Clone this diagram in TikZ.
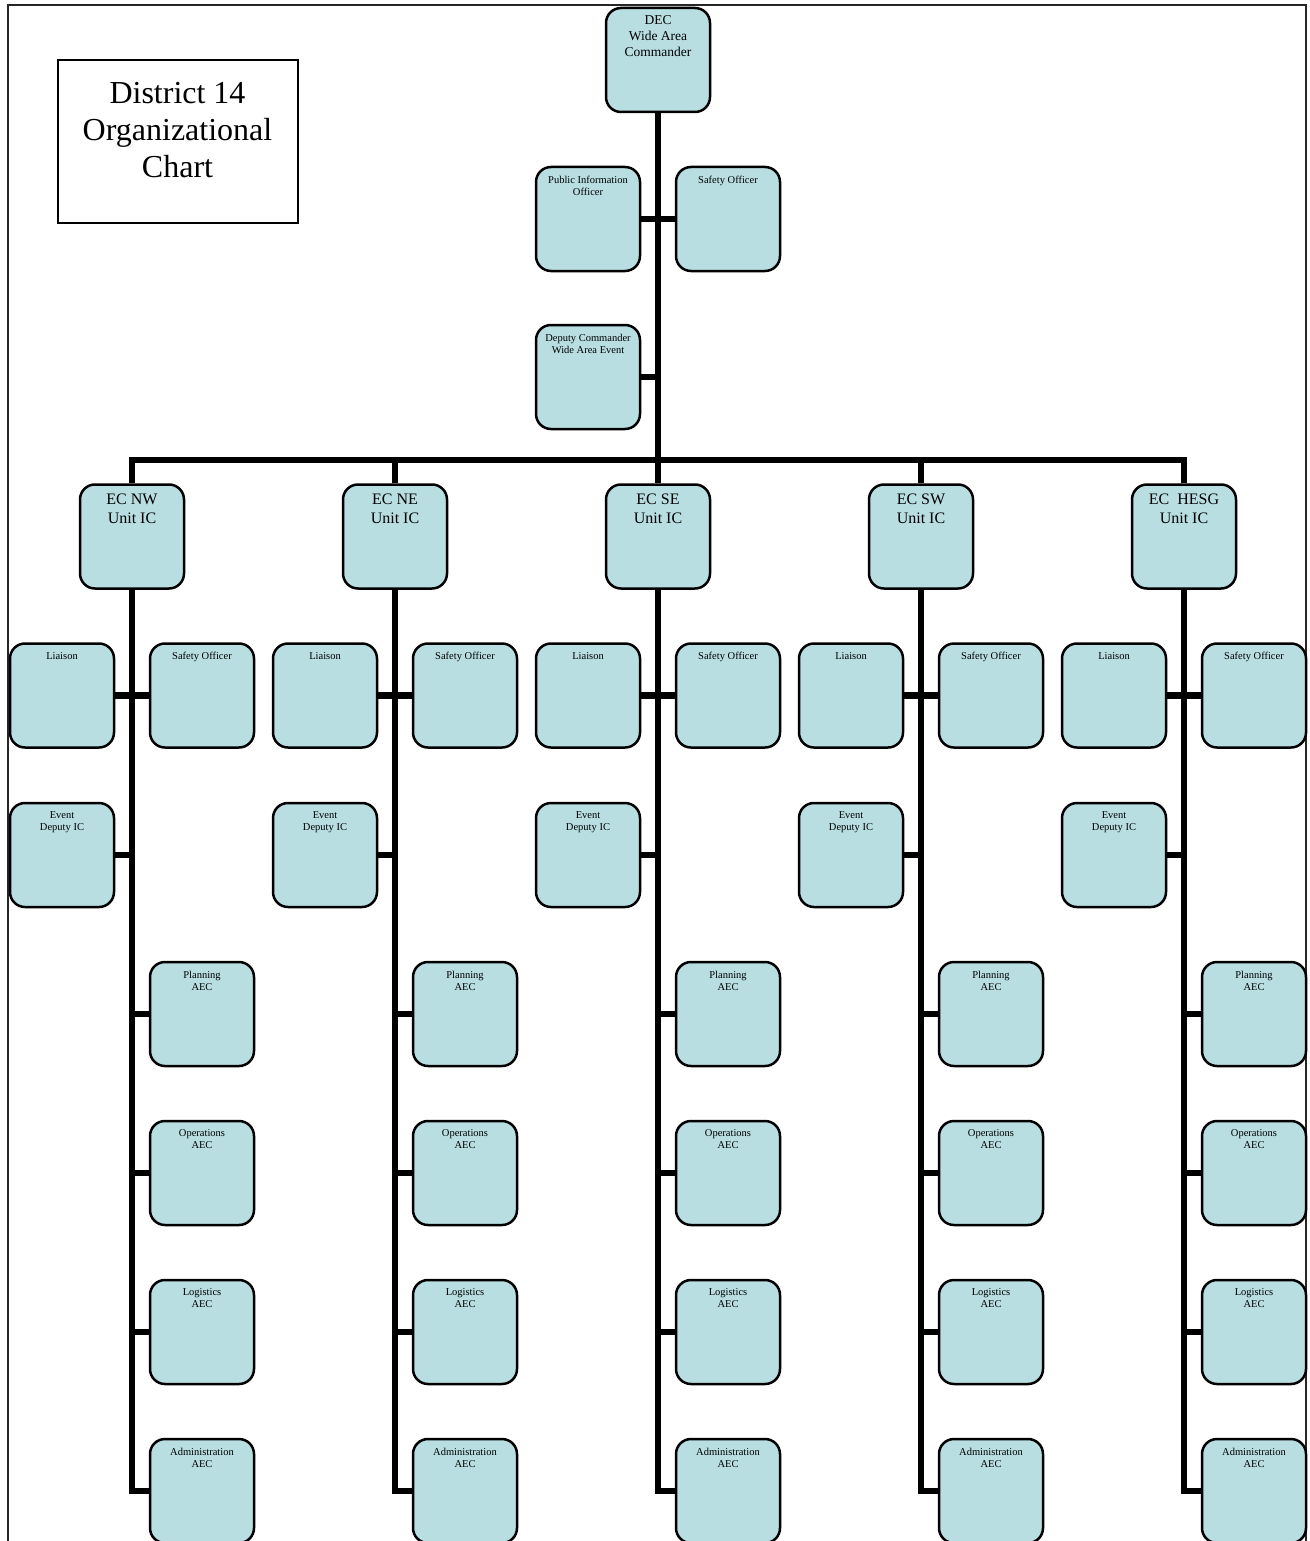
\documentclass[tikz,border=0pt]{standalone}
\usepackage{fontspec}
\setmainfont{Liberation Serif}
\definecolor{boxfill}{RGB}{184,222,226}
\tikzset{
  orgbox/.style={draw=black, line width=2.5pt, fill=boxfill, rounded corners=15pt,
    minimum width=104pt, minimum height=104pt, inner sep=0pt},
  smalllab/.style={anchor=north, yshift=-10pt, align=center, inner sep=0pt,
    font=\fontsize{10.5}{12}\selectfont},
  unitlab/.style={anchor=north, yshift=-10.5pt, align=center, inner sep=0pt,
    font=\fontsize{16}{19}\selectfont},
  declab/.style={anchor=north, yshift=-8.5pt, align=center, inner sep=0pt,
    font=\fontsize{13.5}{16}\selectfont},
  conn/.style={line width=6.5pt, line join=miter},
  frameline/.style={line width=2pt, draw=black!85},
  titlebox/.style={draw=black, line width=2pt, minimum width=240pt, minimum height=162pt, inner sep=0pt}
}
\begin{document}
\begin{tikzpicture}[x=1pt,y=-1pt]
\useasboundingbox (0,0) rectangle (1309,1541);
\draw[frameline] (8,1560) -- (8,5) -- (1306,5) -- (1306,1560);

% title
\node[titlebox, label={[anchor=north, yshift=-22.5pt, align=center, inner sep=0pt,
  font=\fontsize{32}{37}\selectfont]north:{District 14\\Organizational\\Chart}}] (title) at (177.5,141.5) {};

% top level
\node[orgbox, label={[declab]north:{DEC\\Wide Area\\Commander}}] (dec) at (658,60) {};
\node[orgbox, label={[smalllab]north:{Public Information\\Officer}}] (pio) at (588,219) {};
\node[orgbox, label={[smalllab]north:{Safety Officer}}] (so) at (728,219) {};
\node[orgbox, label={[smalllab]north:{Deputy Commander\\Wide Area Event}}] (dep) at (588,377) {};
\coordinate (hub) at (658,460);

\draw[conn] (dec.south) |- (pio.east);
\draw[conn] (dec.south) |- (so.west);
\draw[conn] (dec.south) |- (dep.east);

% units
\foreach \i/\nm in {0/{EC NW}, 1/{EC NE}, 2/{EC SE}, 3/{EC SW}, 4/{EC~~HESG}} {
  \pgfmathsetmacro{\cx}{132+263*\i}
  \pgfmathsetmacro{\lx}{\cx-70}
  \pgfmathsetmacro{\rx}{\cx+70}
  \node[orgbox, label={[unitlab]north:{\nm\\Unit IC}}] (u\i) at (\cx,536.5) {};
  \node[orgbox, label={[smalllab]north:{Liaison}}] (li\i) at (\lx,695.5) {};
  \node[orgbox, label={[smalllab]north:{Safety Officer}}] (sa\i) at (\rx,695.5) {};
  \node[orgbox, label={[smalllab]north:{Event\\Deputy IC}}] (ev\i) at (\lx,855) {};
  \node[orgbox, label={[smalllab]north:{Planning\\AEC}}] (pl\i) at (\rx,1014) {};
  \node[orgbox, label={[smalllab]north:{Operations\\AEC}}] (op\i) at (\rx,1173) {};
  \node[orgbox, label={[smalllab]north:{Logistics\\AEC}}] (lo\i) at (\rx,1332) {};
  \node[orgbox, label={[smalllab]north:{Administration\\AEC}}] (ad\i) at (\rx,1491) {};
  \draw[conn] (hub) -| (u\i.north);
  \draw[conn] (u\i.south) |- (li\i.east);
  \draw[conn] (u\i.south) |- (sa\i.west);
  \draw[conn] (u\i.south) |- (ev\i.east);
  \draw[conn] (u\i.south) |- (pl\i.west);
  \draw[conn] (u\i.south) |- (op\i.west);
  \draw[conn] (u\i.south) |- (lo\i.west);
  \draw[conn] (u\i.south) |- (ad\i.west);
}
\draw[conn] (dec.south) -- (hub);
\end{tikzpicture}
\end{document}
